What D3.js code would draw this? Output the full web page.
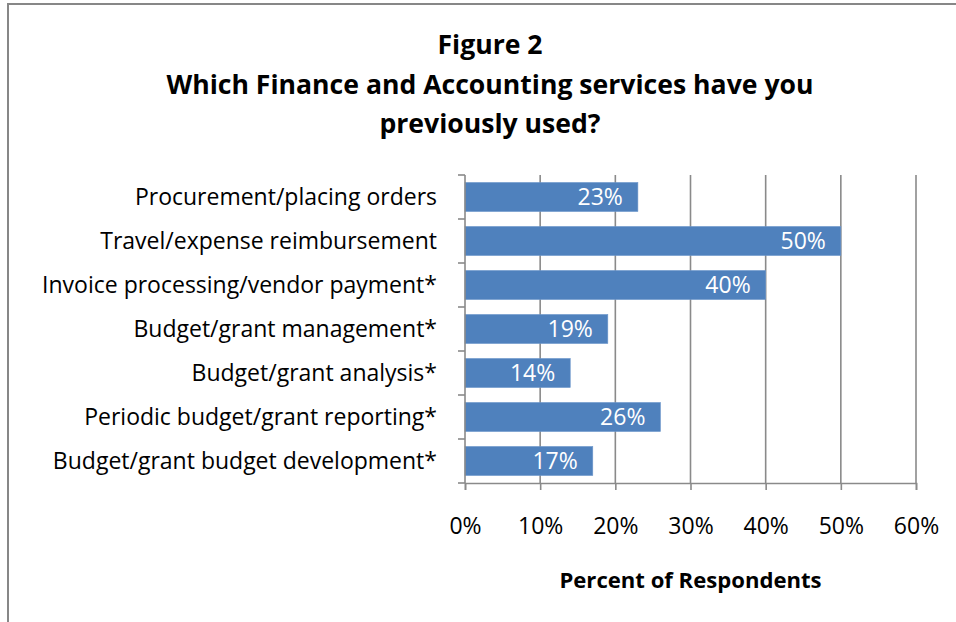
<!DOCTYPE html>
<html>
<head>
<meta charset="utf-8">
<script src="https://cdn.jsdelivr.net/npm/d3@7"></script>
<style>
  html, body { margin: 0; padding: 0; background: #fff; }
  svg { display: block; font-family: "Open Sans", Lato, sans-serif; }
</style>
</head>
<body>
<svg id="chart" width="956" height="622"></svg>
<script>
// Survey responses: share of respondents who used each service
const categories = [
  "Procurement/placing orders",
  "Travel/expense reimbursement",
  "Invoice processing/vendor payment*",
  "Budget/grant management*",
  "Budget/grant analysis*",
  "Periodic budget/grant reporting*",
  "Budget/grant budget development*"
];
const values = [23, 50, 40, 19, 14, 26, 17];
const xTicks = [0, 10, 20, 30, 40, 50, 60];
const titleLines = ["Figure 2", "Which Finance and Accounting services have you", "previously used?"];
const xAxisTitle = "Percent of Respondents";

const svg = d3.select("#chart");
const W = 956, H = 622;
const margin = { left: 465, right: 40, top: 175, bottom: 139 };
const plotW = W - margin.left - margin.right;
const plotH = H - margin.top - margin.bottom;

// Pick a font size so that a sample string spans the wanted width
function fitSize(sample, weight, width) {
  const probe = svg.append("text").attr("font-size", 100).attr("font-weight", weight).text(sample);
  const w = probe.node().getComputedTextLength();
  probe.remove();
  return Math.round(100 * width / w * 10) / 10;
}
const titleSize = fitSize(titleLines[1], "bold", 647);
const axisTitleSize = fitSize(xAxisTitle, "bold", 262);
const catSize = fitSize(categories[0], "normal", 302);
const tickSize = catSize;
const valueSize = catSize;

// Outer chart frame
svg.append("rect")
  .attr("x", 8).attr("y", 4)
  .attr("width", W + 20).attr("height", H + 20)
  .attr("fill", "none").attr("stroke", "#878787").attr("stroke-width", 2);

// Title
const title = svg.append("text")
  .attr("text-anchor", "middle")
  .attr("font-weight", "bold")
  .attr("font-size", titleSize)
  .attr("fill", "#000");
const titleY = [54, 94, 133];
titleLines.forEach((t, i) => {
  title.append("tspan").attr("x", 490).attr("y", titleY[i]).text(t);
});

const g = svg.append("g").attr("transform", `translate(${margin.left},${margin.top})`);

const x = d3.scaleLinear().domain([0, 60]).range([0, plotW]);
const y = d3.scaleBand().domain(categories).range([0, plotH]).paddingInner(0.34).paddingOuter(0.17);

// Vertical gridlines
g.append("g").selectAll("line")
  .data(xTicks.filter(d => d > 0))
  .join("line")
  .attr("x1", d => x(d)).attr("x2", d => x(d))
  .attr("y1", 0).attr("y2", plotH)
  .attr("stroke", "#8a8a8a").attr("stroke-width", 1.6);

// Bars
g.append("g").selectAll("rect")
  .data(values)
  .join("rect")
  .attr("x", x(0))
  .attr("y", (d, i) => y(categories[i]))
  .attr("width", d => x(d) - x(0))
  .attr("height", y.bandwidth())
  .attr("fill", "#4f81bd")
  .attr("stroke", "#6d97cb").attr("stroke-width", 0.6);

// Value labels inside the bar ends
g.append("g").selectAll("text")
  .data(values)
  .join("text")
  .attr("x", d => x(d) - 15)
  .attr("y", (d, i) => y(categories[i]) + y.bandwidth() / 2)
  .attr("dy", "0.36em")
  .attr("text-anchor", "end")
  .attr("font-size", valueSize)
  .attr("fill", "#fff")
  .text(d => d + "%");

// Category axis (left)
const yAxis = d3.axisLeft(y).tickSize(0).tickPadding(28);
const yg = g.append("g").call(yAxis).attr("font-family", null).attr("font-size", null);
yg.select(".domain").remove();
yg.selectAll("text").attr("font-size", catSize).attr("fill", "#000").attr("dy", "0.36em");
// Tick marks on category boundaries
const bounds = d3.range(categories.length + 1).map(i => i * plotH / categories.length);
g.append("g").selectAll("line")
  .data(bounds)
  .join("line")
  .attr("x1", -7).attr("x2", 0)
  .attr("y1", d => d).attr("y2", d => d)
  .attr("stroke", "#8a8a8a").attr("stroke-width", 1.6);
g.append("line")
  .attr("x1", 0).attr("x2", 0).attr("y1", 0).attr("y2", plotH)
  .attr("stroke", "#8a8a8a").attr("stroke-width", 1.6);

// Value axis (bottom)
const xAxis = d3.axisBottom(x).tickValues(xTicks).tickFormat(d => d + "%").tickSize(7).tickPadding(27);
const xg = g.append("g").attr("transform", `translate(0,${plotH})`).call(xAxis)
  .attr("font-family", null).attr("font-size", null);
xg.select(".domain").attr("stroke", "#8a8a8a").attr("stroke-width", 1.6);
xg.selectAll(".tick line").attr("stroke", "#8a8a8a").attr("stroke-width", 1.6);
xg.selectAll("text").attr("font-size", tickSize).attr("fill", "#000").attr("dy", "0.75em");

// Axis title
svg.append("text")
  .attr("x", margin.left + plotW / 2)
  .attr("y", 588)
  .attr("text-anchor", "middle")
  .attr("font-weight", "bold")
  .attr("font-size", axisTitleSize)
  .attr("fill", "#000")
  .text(xAxisTitle);
</script>
</body>
</html>
